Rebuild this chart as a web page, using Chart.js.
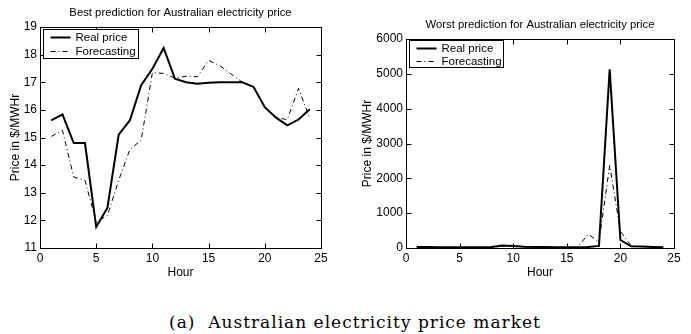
<!DOCTYPE html>
<html><head><meta charset="utf-8">
<script src="https://cdn.jsdelivr.net/npm/chart.js@4"></script>
<style>
html,body{margin:0;padding:0;background:#fff;}
#wrap{position:relative;width:691px;height:334px;overflow:hidden;background:#fff;}
.box{position:absolute;top:0;height:280px;}
#cap{position:absolute;left:169px;top:312px;line-height:20px;font-family:"DejaVu Serif",serif;font-size:17px;letter-spacing:1px;color:#000;white-space:pre;}
</style></head>
<body>
<div id="wrap">
  <div class="box" style="left:0;width:345px;"><canvas id="c1" width="345" height="280"></canvas></div>
  <div class="box" style="left:345px;width:346px;"><canvas id="c2" width="346" height="280"></canvas></div>
  <div id="cap">(a)  Australian electricity price market</div>
</div>
<script>
const hours = [1,2,3,4,5,6,7,8,9,10,11,12,13,14,15,16,17,18,19,20,21,22,23,24];
const bestReal = [15.62,15.84,14.80,14.80,11.76,12.46,15.10,15.62,16.89,17.49,18.24,17.13,17.00,16.95,16.98,17.00,17.00,17.00,16.83,16.10,15.72,15.44,15.65,16.02];
const bestForecast = [15.04,15.26,13.57,13.45,11.94,12.18,13.45,14.57,14.90,17.35,17.32,17.15,17.22,17.20,17.79,17.60,17.30,17.00,16.83,16.10,15.72,15.65,16.78,15.70];
const worstReal = [30,28,25,22,20,22,25,30,70,55,35,30,28,25,25,25,30,60,5130,230,50,40,30,20];
const worstForecast = [25,22,20,18,15,18,20,25,50,45,30,25,22,20,20,20,400,170,2370,480,60,40,30,20];
const xTicks = [0,5,10,15,20,25];
const bestYTicks = [11,12,13,14,15,16,17,18,19];
const worstYTicks = [0,1000,2000,3000,4000,5000,6000];
const seriesNames = ['Real price','Forecasting'];
const titles = ['Best prediction for Australian electricity price','Worst prediction for Australian electricity price'];

const FONT = '"Liberation Sans", Arial, sans-serif';

const framePlugin = {
  id: 'frame',
  afterDraw(chart, args, opts) {
    const ctx = chart.ctx, a = chart.chartArea;
    const xs = chart.scales.x, ys = chart.scales.y;
    ctx.save();
    // title
    ctx.fillStyle = '#000';
    ctx.font = '11.3px ' + FONT;
    ctx.textAlign = 'center';
    ctx.textBaseline = 'middle';
    ctx.fillText(opts.title, (a.left + a.right) / 2, opts.titleY);
    ctx.textAlign = 'left';
    ctx.strokeStyle = '#000';
    ctx.lineWidth = 1;
    const L = Math.round(a.left)+0.5, R = Math.round(a.right)+0.5, T = Math.round(a.top)+0.5, B = Math.round(a.bottom)+0.5;
    ctx.strokeRect(L, T, R-L, B-T);
    const tl = 5;
    ctx.beginPath();
    xs.ticks.forEach(t => {
      const p = Math.round(xs.getPixelForValue(t.value))+0.5;
      ctx.moveTo(p, B); ctx.lineTo(p, B-tl);
      ctx.moveTo(p, T); ctx.lineTo(p, T+tl);
    });
    ys.ticks.forEach(t => {
      const p = Math.round(ys.getPixelForValue(t.value))+0.5;
      ctx.moveTo(L, p); ctx.lineTo(L+tl, p);
      ctx.moveTo(R, p); ctx.lineTo(R-tl, p);
    });
    ctx.stroke();
    // legend
    const lg = opts;
    const bx = Math.round(a.left) + lg.dx + 0.5, by = Math.round(a.top) + lg.dy + 0.5;
    ctx.fillStyle = '#fff';
    ctx.fillRect(bx, by, lg.w, lg.h);
    ctx.lineWidth = 1;
    ctx.strokeStyle = '#000';
    ctx.strokeRect(bx, by, lg.w, lg.h);
    ctx.font = '11.5px ' + FONT;
    ctx.fillStyle = '#000';
    ctx.textBaseline = 'middle';
    chart.data.datasets.forEach((ds, i) => {
      const yy = by + lg.rows[i];
      ctx.beginPath();
      ctx.lineWidth = ds.borderWidth;
      ctx.setLineDash(ds.borderDash || []);
      ctx.moveTo(bx + 7, yy); ctx.lineTo(bx + 27, yy);
      ctx.stroke();
      ctx.setLineDash([]);
      ctx.fillText(ds.label, bx + 32, yy + 0.5);
    });
    ctx.restore();
  }
};

function makeChart(id, cfg) {
  return new Chart(document.getElementById(id), {
    type: 'line',
    data: {
      datasets: [
        { label: seriesNames[0], data: hours.map((h,i)=>({x:h, y:cfg.real[i]})), borderColor:'#000', borderWidth:2, pointRadius:0, tension:0, fill:false },
        { label: seriesNames[1], data: hours.map((h,i)=>({x:h, y:cfg.fc[i]})), borderColor:'#000', borderWidth:1, borderDash:[5,3,1,3], pointRadius:0, tension:0, fill:false }
      ]
    },
    options: {
      responsive: false,
      animation: false,
      events: [],
      layout: { padding: { left: 0, right: cfg.padRight, top: cfg.padTop, bottom: 0 } },
      plugins: {
        legend: { display: false },
        tooltip: { enabled: false },
        title: { display: false },
        frame: cfg.legend
      },
      scales: {
        x: {
          type: 'linear', min: 0, max: 25,
          afterBuildTicks: s => { s.ticks = xTicks.map(v=>({value:v})); },
          afterFit: s => { s.height = 32; },
          grid: { display: false, drawTicks: false },
          border: { display: false },
          ticks: { color:'#000', font: { family: FONT, size: 12 }, padding: 3, maxRotation: 0, autoSkip: false, callback: v => String(v) },
          title: { display: true, text: 'Hour', color:'#000', font: { family: FONT, size: 12 }, padding: { top: 6, bottom: 0 } }
        },
        y: {
          type: 'linear', min: cfg.yTicks[0], max: cfg.yTicks[cfg.yTicks.length-1],
          afterBuildTicks: s => { s.ticks = cfg.yTicks.map(v=>({value:v})); },
          afterFit: s => { s.width = cfg.yWidth; },
          grid: { display: false, drawTicks: false },
          border: { display: false },
          ticks: { color:'#000', font: { family: FONT, size: 12 }, padding: 3, autoSkip: false, callback: v => String(v) },
          title: { display: true, text: 'Price in $/MWHr', color:'#000', font: { family: FONT, size: 12 }, padding: { top: cfg.yTitlePad, bottom: 0 } }
        }
      }
    },
    plugins: [framePlugin]
  });
}

makeChart('c1', {
  real: bestReal, fc: bestForecast, yTicks: bestYTicks,
  padTop: 27, padRight: 24, yWidth: 40, yTitlePad: 8,
  legend: { title: titles[0], titleY: 13, dx: 3, dy: 2, w: 95, h: 29, rows: [8, 22] }
});
makeChart('c2', {
  real: worstReal, fc: worstForecast, yTicks: worstYTicks,
  padTop: 39, padRight: 17, yWidth: 61, yTitlePad: 15,
  legend: { title: titles[1], titleY: 25, dx: 3, dy: 1, w: 94, h: 27, rows: [8, 21] }
});
</script>
</body></html>
